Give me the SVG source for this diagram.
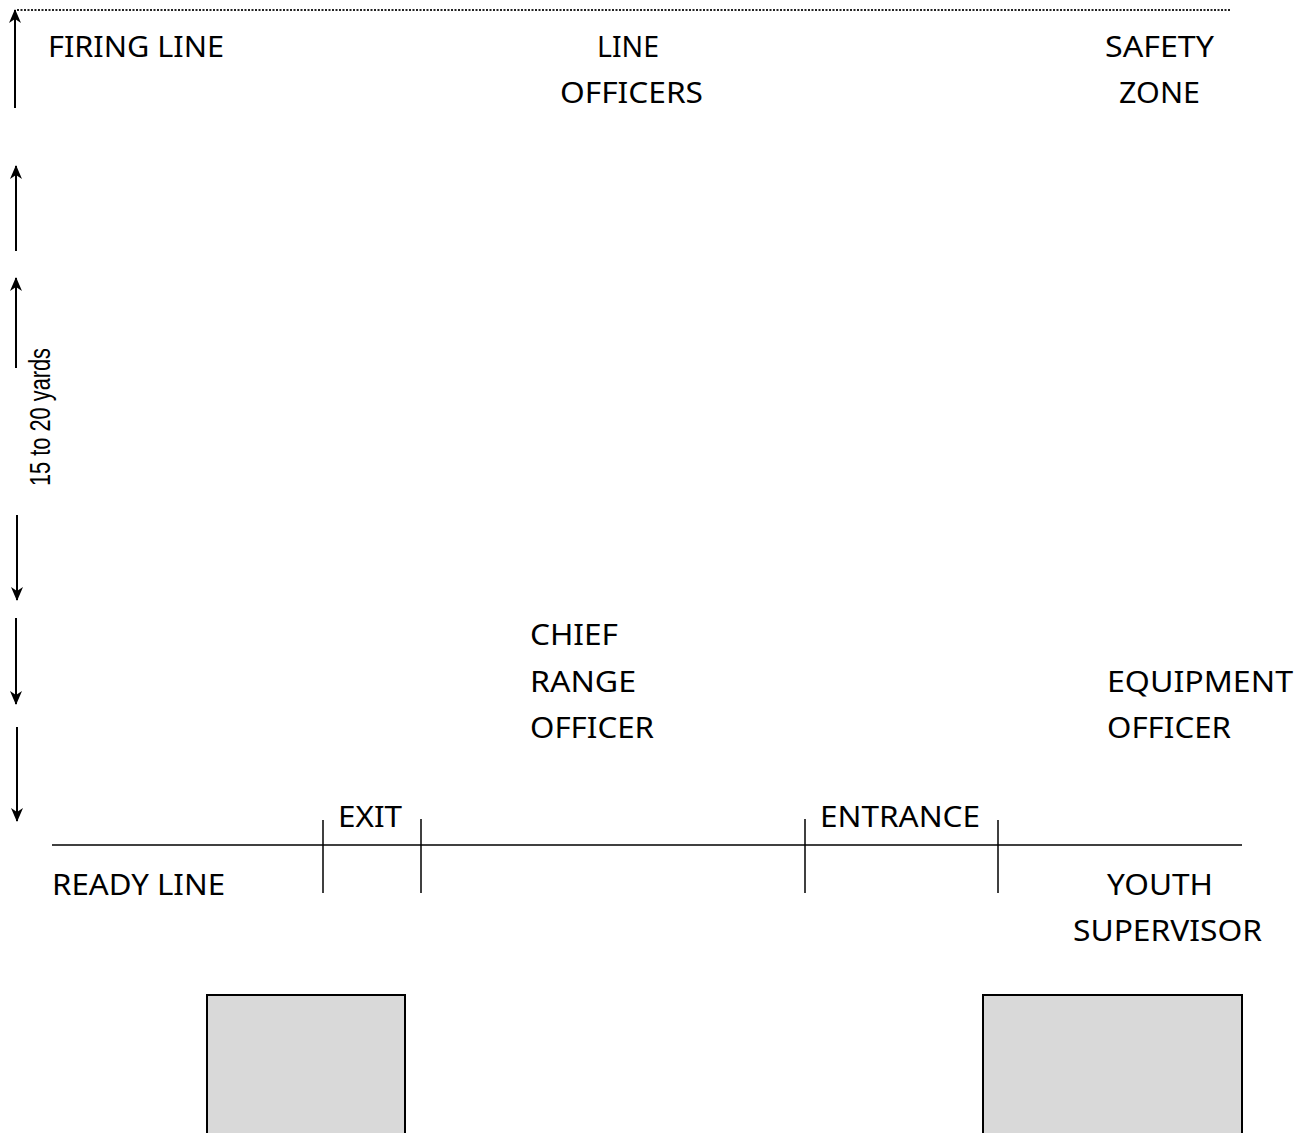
<svg xmlns="http://www.w3.org/2000/svg" width="1306" height="1133" viewBox="0 0 1306 1133">
<style>
.t{font-family:"Noto Sans","Open Sans","Liberation Sans",sans-serif;font-size:29px;fill:#000}
.n{font-family:"Liberation Sans Narrow","Liberation Sans",sans-serif;font-size:29px;fill:#000}
.ln{stroke:#000;stroke-width:1.5;fill:none}
.ar{stroke:#000;stroke-width:2;fill:none}
.box{fill:#d9d9d9;stroke:#000;stroke-width:2}
</style>
<defs>
<marker id="ah" viewBox="0 0 14 12" refX="13" refY="6" markerWidth="14" markerHeight="12" markerUnits="userSpaceOnUse" orient="auto">
<path d="M0,0 L14,6 L0,12 L4,6 Z" fill="#000"/>
</marker>
</defs>
<rect width="1306" height="1133" fill="#fff"/>
<g id="firing-line-mark">
<line x1="17" y1="10" x2="1231" y2="10" stroke="#222" stroke-width="2" stroke-dasharray="2,1.5"/>
</g>
<g id="connectors">
<line class="ar" x1="15" y1="108" x2="15" y2="10" marker-end="url(#ah)"/>
<line class="ar" x1="16" y1="251" x2="16" y2="166" marker-end="url(#ah)"/>
<line class="ar" x1="16" y1="368" x2="16" y2="278" marker-end="url(#ah)"/>
<line class="ar" x1="17" y1="515" x2="17" y2="600" marker-end="url(#ah)"/>
<line class="ar" x1="16" y1="618" x2="16" y2="704" marker-end="url(#ah)"/>
<line class="ar" x1="17" y1="727" x2="17" y2="821" marker-end="url(#ah)"/>
</g>
<g id="distance-label">
<text class="n" transform="translate(50,486) rotate(-90)" textLength="138" lengthAdjust="spacingAndGlyphs">15 to 20 yards</text>
</g>
<g id="firing-line"><text class="t" x="48" y="57" textLength="176" lengthAdjust="spacingAndGlyphs">FIRING LINE</text></g>
<g id="line-officers">
<text class="t" x="597" y="57" textLength="62" lengthAdjust="spacingAndGlyphs">LINE</text>
<text class="t" x="560" y="103" textLength="143" lengthAdjust="spacingAndGlyphs">OFFICERS</text>
</g>
<g id="safety-zone">
<text class="t" x="1105" y="57" textLength="109" lengthAdjust="spacingAndGlyphs">SAFETY</text>
<text class="t" x="1119" y="103" textLength="81" lengthAdjust="spacingAndGlyphs">ZONE</text>
</g>
<g id="chief-range-officer">
<text class="t" x="530" y="645" textLength="88" lengthAdjust="spacingAndGlyphs">CHIEF</text>
<text class="t" x="530" y="692" textLength="106" lengthAdjust="spacingAndGlyphs">RANGE</text>
<text class="t" x="530" y="738" textLength="124" lengthAdjust="spacingAndGlyphs">OFFICER</text>
</g>
<g id="equipment-officer">
<text class="t" x="1107" y="692" textLength="186" lengthAdjust="spacingAndGlyphs">EQUIPMENT</text>
<text class="t" x="1107" y="738" textLength="124" lengthAdjust="spacingAndGlyphs">OFFICER</text>
</g>
<g id="ready-line">
<line class="ln" x1="52" y1="845" x2="1242" y2="845"/>
<line class="ln" x1="323" y1="820" x2="323" y2="893"/>
<line class="ln" x1="421" y1="819" x2="421" y2="893"/>
<line class="ln" x1="805" y1="819" x2="805" y2="893"/>
<line class="ln" x1="998" y1="820" x2="998" y2="893"/>
<text class="t" x="52" y="895" textLength="173" lengthAdjust="spacingAndGlyphs">READY LINE</text>
</g>
<g id="exit"><text class="t" x="338" y="827" textLength="64" lengthAdjust="spacingAndGlyphs">EXIT</text></g>
<g id="entrance"><text class="t" x="820" y="827" textLength="160" lengthAdjust="spacingAndGlyphs">ENTRANCE</text></g>
<g id="youth-supervisor">
<text class="t" x="1107" y="895" textLength="106" lengthAdjust="spacingAndGlyphs">YOUTH</text>
<text class="t" x="1073" y="941" textLength="189" lengthAdjust="spacingAndGlyphs">SUPERVISOR</text>
</g>
<g id="box-left"><rect class="box" x="207" y="995" width="198" height="150"/></g>
<g id="box-right"><rect class="box" x="983" y="995" width="259" height="150"/></g>
</svg>
